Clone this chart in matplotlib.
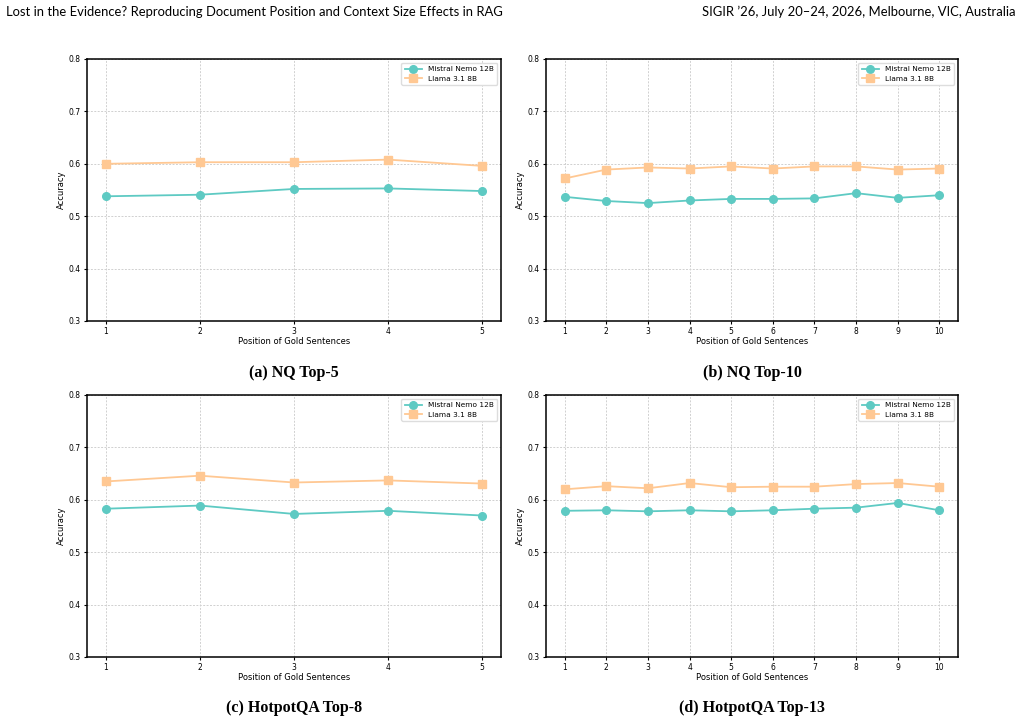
import matplotlib
matplotlib.use("Agg")
import matplotlib.pyplot as plt

# data
pos5 = [1, 2, 3, 4, 5]
pos10 = [1, 2, 3, 4, 5, 6, 7, 8, 9, 10]

nq5_mistral = [0.538, 0.541, 0.552, 0.553, 0.548]
nq5_llama = [0.600, 0.603, 0.603, 0.608, 0.596]

nq10_mistral = [0.537, 0.529, 0.525, 0.530, 0.533, 0.533, 0.534, 0.544, 0.535, 0.540]
nq10_llama = [0.572, 0.589, 0.593, 0.591, 0.595, 0.591, 0.595, 0.595, 0.589, 0.591]

hp8_mistral = [0.583, 0.589, 0.573, 0.579, 0.570]
hp8_llama = [0.635, 0.646, 0.633, 0.637, 0.631]

hp13_mistral = [0.579, 0.580, 0.578, 0.580, 0.578, 0.580, 0.583, 0.585, 0.594, 0.580]
hp13_llama = [0.620, 0.626, 0.622, 0.632, 0.624, 0.625, 0.625, 0.630, 0.632, 0.625]

captions = ["(a) NQ Top-5", "(b) NQ Top-10", "(c) HotpotQA Top-8", "(d) HotpotQA Top-13"]
panels = [
    (pos5, nq5_mistral, nq5_llama),
    (pos10, nq10_mistral, nq10_llama),
    (pos5, hp8_mistral, hp8_llama),
    (pos10, hp13_mistral, hp13_llama),
]

teal = "#5ecac3"
peach = "#ffc893"

fig = plt.figure(figsize=(10.21, 7.23), dpi=100)
W, H = 1021, 723

# axes boxes in pixels: left, top, right, bottom
boxes = [
    (87, 59, 501, 321),
    (546, 59, 958, 321),
    (87, 395, 501, 657),
    (546, 395, 958, 657),
]
cap_y = [373, 373, 708, 708]

for i, (x, m, l) in enumerate(panels):
    x0, y0, x1, y1 = boxes[i]
    ax = fig.add_axes([x0 / W, 1 - y1 / H, (x1 - x0) / W, (y1 - y0) / H])
    ax.plot(x, m, marker="o", color=teal, markersize=5.5, linewidth=1.3, label="Mistral Nemo 12B")
    ax.plot(x, l, marker="s", color=peach, markersize=5.5, linewidth=1.3, label="Llama 3.1 8B")
    ax.set_ylim(0.3, 0.8)
    ax.set_xticks(x)
    ax.tick_params(labelsize=5.5, length=2.5, width=0.8, pad=2)
    ax.grid(True, linestyle=(0, (2, 1.5)), color="#d0d0d0", linewidth=0.7)
    ax.set_xlabel("Position of Gold Sentences", fontsize=6.0, labelpad=0.5)
    ax.set_ylabel("Accuracy", fontsize=6.0, labelpad=2)
    for s in ax.spines.values():
        s.set_linewidth(1.1)
    ax.legend(loc="upper right", fontsize=5.3, framealpha=1, edgecolor="#dddddd",
              handlelength=2.4, borderpad=0.45, labelspacing=0.45)
    cx = (x0 + x1) / 2 / W
    fig.text(cx, 1 - cap_y[i] / H, captions[i], ha="center", va="center",
             fontsize=11.5, fontweight="bold", family="Liberation Serif")

fig.text(6 / W, 1 - 12 / H, "Lost in the Evidence? Reproducing Document Position and Context Size Effects in RAG",
         ha="left", va="center", fontsize=9.4, family="Lato")
fig.text(1015 / W, 1 - 12 / H, "SIGIR \u201926, July 20\u201324, 2026, Melbourne, VIC, Australia",
         ha="right", va="center", fontsize=9.4, family="Lato")

fig.savefig("out.png", dpi=100)
